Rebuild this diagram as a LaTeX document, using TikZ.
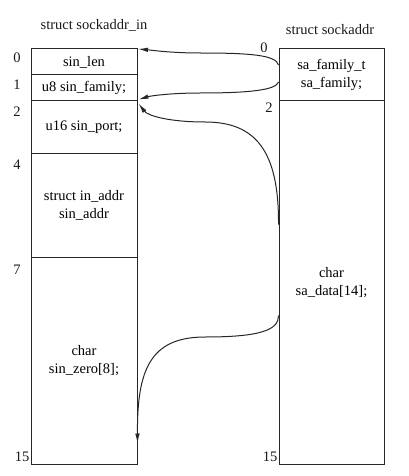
\documentclass[tikz,border=0pt]{standalone}
\usepackage{fontspec}
\setmainfont{Liberation Serif}
\usetikzlibrary{arrows.meta,calc}
\begin{document}
\begin{tikzpicture}[x=1pt,y=-1pt,
  cell/.style={draw=black!85, line width=1pt, minimum width=106pt, inner sep=0pt, align=center, font=\fontsize{14.5}{18}\selectfont},
  lab/.style={font=\fontsize{14.5}{16}\selectfont, inner sep=0pt, text=black!90},
  conn/.style={draw=black!85, line width=1pt, -{Latex[length=10pt,width=4.5pt]}}]
\useasboundingbox (0,0) rectangle (409,476);
% titles
\node[lab] (t1) at (94,25) {struct sockaddr\_in};
\node[lab] (t2) at (330,30) {struct sockaddr};
% left structure
\node[cell, minimum height=26pt] (c0) at (84,62) {sin\_len};
\node[cell, minimum height=26pt] (c1) at (84,88) {u8 sin\_family;};
\node[cell, minimum height=52pt] (c2) at (84,127) {u16 sin\_port;};
\node[cell, minimum height=104pt] (c3) at (84,205) {struct in\_addr\\sin\_addr};
\node[cell, minimum height=207pt] (c4) at (84,360.5) {char\\sin\_zero[8];};
% right structure
\node[cell, minimum width=105pt, minimum height=52pt] (r0) at (331.5,75) {sa\_family\_t\\sa\_family;};
\node[cell, minimum width=105pt, minimum height=363pt] (r1) at (331.5,282.5) {char\\sa\_data[14];};
% offsets
\node[lab] (l0) at (17,58) {0};
\node[lab] (l1) at (17,85) {1};
\node[lab] (l2) at (17,112) {2};
\node[lab] (l4) at (17,165) {4};
\node[lab] (l7) at (17,270) {7};
\node[lab] (l15) at (22,457) {15};
\node[lab] (m0) at (264,48) {0};
\node[lab] (m2) at (269,108) {2};
\node[lab] (m15) at (270,457) {15};
% connector anchors
\coordinate (s1) at ($(r0.west)+(0,-10)$);
\coordinate (s2) at ($(r0.west)+(0,7)$);
\coordinate (s3) at ($(r1.west)+(0,-58)$);
\coordinate (s4) at ($(r1.west)+(0,33)$);
\coordinate (e1) at ($(c0.north east)+(0.5,0.5)$);
\coordinate (e2) at ($(c1.south east)+(1,-2)$);
\coordinate (e3) at ($(c2.north east)+(1,3)$);
\coordinate (e4) at ($(c4.south east)+(0,-21)$);
% connectors
\draw[conn] (s1) .. controls (276,55) and (250,53) .. (200,53) .. controls (170,53) and (150,50) .. (e1);
\draw[conn] (s2) .. controls (276,90) and (250,93) .. (200,93) .. controls (170,93) and (150,96) .. (e2);
\draw[conn] (s3) .. controls (279,150) and (255,122) .. (205,122) .. controls (170,122) and (148,116) .. (e3);
\draw[conn] (s4) .. controls (279,330) and (260,337) .. (205,337) .. controls (150,337) and (137,370) .. (e4);
\end{tikzpicture}
\end{document}
